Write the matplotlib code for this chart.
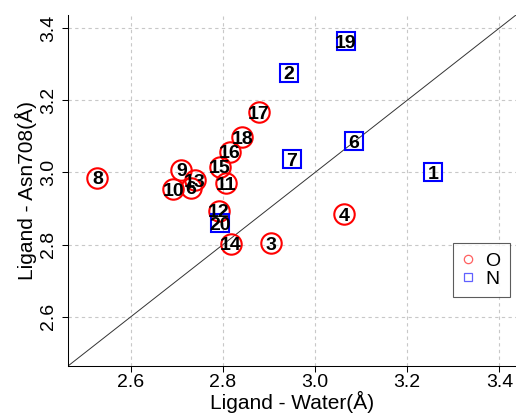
import matplotlib
matplotlib.use("Agg")
import matplotlib.pyplot as plt
from matplotlib.lines import Line2D

plt.rcParams['font.family'] = ['Liberation Sans', 'DejaVu Sans']

# O-type ligand atoms (circles)
o_labels = ["3", "4", "6", "8", "9", "10", "11", "12", "13", "14", "15", "16", "17", "18"]
o_water = [2.904, 3.063, 2.730, 2.528, 2.710, 2.692, 2.806, 2.791, 2.739, 2.817, 2.793, 2.815, 2.878, 2.842]
o_asn = [2.804, 2.884, 2.957, 2.986, 3.008, 2.954, 2.970, 2.894, 2.979, 2.803, 3.016, 3.057, 3.167, 3.098]

# N-type ligand atoms (squares)
n_labels = ["1", "2", "6", "7", "19", "20"]
n_water = [3.257, 2.944, 3.084, 2.950, 3.067, 2.793]
n_asn = [3.000, 3.276, 3.087, 3.037, 3.364, 2.859]

ticks = [2.6, 2.8, 3.0, 3.2, 3.4]
lims = [2.464, 3.436]

fig = plt.figure(figsize=(5.16, 4.18), dpi=100)
ax = fig.add_axes([68/516, 1 - 366/418, 448/516, 351/418])
ax.set_xlim(lims)
ax.set_ylim(lims)

for x in ticks:
    ax.axvline(x, color='#c8c8c8', lw=0.8, ls=(0, (3, 3)), zorder=0)
    ax.axhline(x, color='#c8c8c8', lw=0.8, ls=(0, (3, 3)), zorder=0)

ax.plot(lims, lims, color='#333333', lw=0.7, zorder=1)

ax.plot(o_water, o_asn, ls='none', marker='o', ms=14.7, mfc='none', mec='#ff0000', mew=1.5, zorder=2)
ax.plot(n_water, n_asn, ls='none', marker='s', ms=13.0, mfc='none', mec='#0000ff', mew=1.5, zorder=2)

for lab, x, y in zip(o_labels, o_water, o_asn):
    ax.text(x, y, lab, ha='center', va='center_baseline', fontsize=14, fontweight='bold', zorder=3)
for lab, x, y in zip(n_labels, n_water, n_asn):
    ax.text(x, y, lab, ha='center', va='center_baseline', fontsize=14, fontweight='bold', zorder=3)

ax.set_xticks(ticks)
ax.set_yticks(ticks)
ax.set_xticklabels([f"{t:.1f}" for t in ticks])
ax.set_yticklabels([f"{t:.1f}" for t in ticks], rotation=90, va='center')
ax.tick_params(axis='both', labelsize=14, length=4, width=0.75, direction='out')
ax.tick_params(axis='x', pad=1.5)
ax.tick_params(axis='y', pad=4)

for s in ['top', 'right']:
    ax.spines[s].set_visible(False)
for s in ['left', 'bottom']:
    ax.spines[s].set_linewidth(0.75)

ax.set_xlabel("Ligand - Water(Å)", fontsize=15, labelpad=0)
ax.set_ylabel("Ligand - Asn708(Å)", fontsize=15, labelpad=2)

handles = [
    Line2D([], [], ls='none', marker='o', ms=6, mfc='none', mec='#ff6060', mew=0.9),
    Line2D([], [], ls='none', marker='s', ms=6, mfc='none', mec='#6060ff', mew=0.9),
]
leg = ax.legend(handles, ["O", "N"], loc='upper left', bbox_to_anchor=(0.859, 0.351),
                fontsize=14, frameon=True, fancybox=False, borderaxespad=0,
                handlelength=0.6, handletextpad=0.55, labelspacing=0.0, borderpad=0.5)
leg.get_frame().set_edgecolor('#333333')
leg.get_frame().set_linewidth(0.8)

fig.savefig("out.png", dpi=100)
